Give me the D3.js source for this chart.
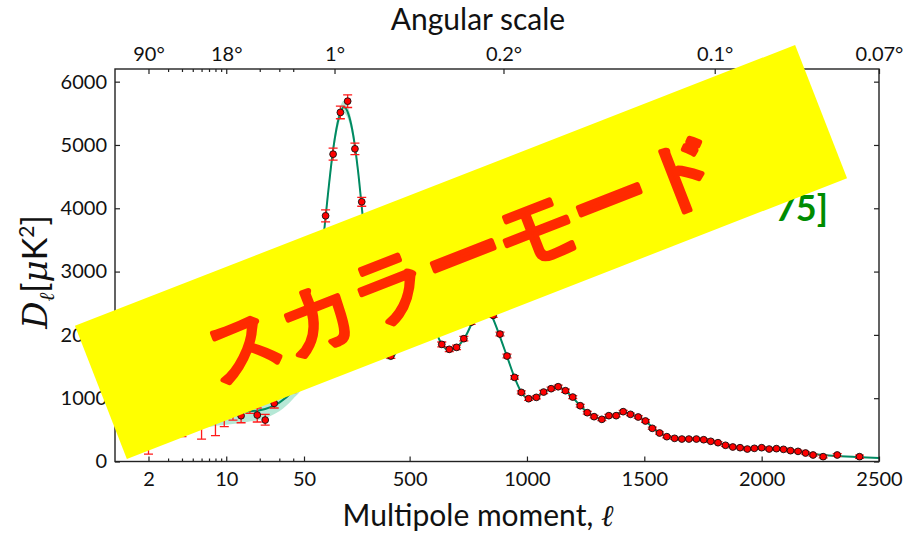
<!DOCTYPE html>
<html><head><meta charset="utf-8">
<script src="https://cdn.jsdelivr.net/npm/d3@7"></script>
<style>
body{margin:0;background:#fff}
svg{display:block}
text{font-family:Lato,"DejaVu Sans",sans-serif;fill:#111}
</style>
</head><body>
<svg id="c" width="916" height="537"></svg>
<script>
// ---------------- data ----------------
// best-fit model curve (multipole, D_l in uK^2) and its cosmic-variance half width
const curveL = [2,3,4,5,6,7,8,10,12,15,20,25,30,40,50,75,100,125,150,175,200,220,240,260,280,300,325,350,375,400,420,450,480,510,540,570,600,630,670,700,740,780,815,850,880,915,950,980,1010,1040,1080,1120,1150,1190,1230,1270,1310,1350,1400,1430,1470,1510,1550,1600,1650,1700,1750,1800,1850,1900,1950,2000,2050,2100,2150,2200,2250,2300,2400,2500];
const curveD = [1000,930,880,850,830,815,805,790,785,790,810,860,930,1120,1350,1800,2450,3250,4150,4950,5450,5600,5480,5150,4600,3880,3000,2300,1850,1660,1640,1780,2100,2380,2520,2430,2170,1900,1760,1800,1990,2290,2420,2300,2020,1660,1300,1070,995,1020,1110,1175,1150,1030,870,740,680,705,770,765,705,620,490,395,358,355,345,308,255,222,205,205,195,183,162,130,105,92,72,55];
const bandHalf = [650,500,400,340,300,270,240,210,190,170,150,140,135,130,110,90,90,92,95,98,100,100,95,90,80,70,60,52,45,40,40,40,40,40,40,38,36,34,30,30,28,28,26,25,24,22,20,20,18,18,17,16,15,14,13,12,11,11,10,10,10,9,9,8,8,7,7,7,6,6,6,6,5,5,5,5,4,4,4,4];

// low-multipole points (log part of the axis): value, lower and upper error
const lowL  = [2,3,4,5,6,7,8,9.6,11.5,13.6,16.3,19,22.4,27,32.5,39,46.5];
const lowD  = [250,1000,700,1600,800,1100,700,720,800,723,880,734,655,919,1100,1150,1300];
const lowLo = [132,600,308,900,445,500,292,170,145,111,120,110,79,74,60,60,60];
const lowHi = [1900,900,800,900,600,600,500,300,250,111,180,111,90,80,70,70,65];

// binned high-multipole points
const highL = [80,111,142,174,205,236,267,296,327,358,389,420,451,482,513,544,575,606,637,669,700,731,762,793,824,856,885,915,947,976,1007,1040,1071,1103,1133,1164,1195,1227,1257,1286,1319,1349,1380,1410,1441,1474,1505,1534,1565,1596,1629,1660,1690,1722,1753,1783,1814,1846,1877,1908,1939,1969,2000,2032,2063,2093,2123,2155,2187,2219,2262,2322,2417];
const highD = [1950,2750,3881,4855,5514,5692,4939,4102,3100,2400,1900,1666,1800,2100,2400,2520,2450,2150,1850,1772,1803,1940,2200,2400,2450,2308,2013,1666,1329,1092,992,1013,1097,1150,1181,1118,1018,881,771,708,666,724,724,787,745,703,640,524,450,392,366,355,355,355,344,319,297,256,229,218,197,208,218,197,203,192,171,160,134,103,76,103,76];
const highErr = [90,95,95,95,100,100,90,70,55,45,40,38,40,42,45,45,42,40,38,35,35,35,35,35,35,32,30,30,28,25,25,25,25,25,25,25,24,22,22,20,20,20,20,20,20,20,20,18,18,17,16,16,16,16,16,16,16,16,15,15,15,15,15,16,16,17,18,18,18,18,20,22,25];

// axes
const bottomTicks = [2,10,50,500,1000,1500,2000,2500];
const minorTicks = [3,4,5,6,7,8,9,20,30,40];
const topTicks = [2,10,180,900,1800,2500];
const topLabels = ["90°","18°","1°","0.2°","0.1°","0.07°"];
const yTicks = [0,1000,2000,3000,4000,5000,6000];

const titleTop = "Angular scale";
const titleBottom = "Multipole moment, ";
const noteText = "75]";
const bannerText = "スカラーモード";

// ---------------- layout ----------------
const L = 115, R = 879, T = 69, B = 461.5, BRK = 304;
const svg = d3.select("#c");

const xLog = d3.scaleLog().domain([1, 50]).range([L, BRK]);
const xLin = d3.scaleLinear().domain([50, 2500]).range([BRK, R]);
function hybrid() {
  const s = l => (l <= 50 ? xLog(l) : xLin(l));
  s.domain = () => [1, 2500];
  s.range = () => [L, R];
  s.copy = () => hybrid();
  return s;
}
const x = hybrid();
const y = d3.scaleLinear().domain([0, 6200]).range([B, T]);

svg.append("defs").append("clipPath").attr("id", "clip")
  .append("rect").attr("x", L).attr("y", T).attr("width", R - L).attr("height", B - T);

const plot = svg.append("g").attr("clip-path", "url(#clip)");

// band
const idx = d3.range(curveL.length);
plot.append("path")
  .attr("d", d3.area().curve(d3.curveMonotoneX)
    .x(i => x(curveL[i])).y0(i => y(curveD[i] - bandHalf[i])).y1(i => y(curveD[i] + bandHalf[i]))(idx))
  .attr("fill", "#a9e4cf").attr("opacity", 0.85);
// curve
plot.append("path")
  .attr("d", d3.line().curve(d3.curveMonotoneX).x(i => x(curveL[i])).y(i => y(curveD[i]))(idx))
  .attr("fill", "none").attr("stroke", "#008a62").attr("stroke-width", 2);

// error bars
const eb = plot.append("g").attr("stroke", "#ff1a1a").attr("stroke-width", 1.3);
function errBar(l, d, lo, hi) {
  const cx = x(l);
  eb.append("line").attr("x1", cx).attr("x2", cx).attr("y1", y(d - lo)).attr("y2", y(d + hi));
  [d - lo, d + hi].forEach(v => eb.append("line").attr("x1", cx - 4.5).attr("x2", cx + 4.5).attr("y1", y(v)).attr("y2", y(v)));
}
lowL.forEach((l, i) => errBar(l, lowD[i], lowLo[i], lowHi[i]));
highL.forEach((l, i) => errBar(l, highD[i], highErr[i], highErr[i]));

// points
const pts = plot.append("g").attr("fill", "#ff0000").attr("stroke", "#111").attr("stroke-width", 0.9);
lowL.forEach((l, i) => pts.append("circle").attr("cx", x(l)).attr("cy", y(lowD[i])).attr("r", 3.4));
highL.forEach((l, i) => pts.append("circle").attr("cx", x(l)).attr("cy", y(highD[i])).attr("r", 3.4));

// frame
svg.append("rect").attr("x", L).attr("y", T).attr("width", R - L).attr("height", B - T)
  .attr("fill", "none").attr("stroke", "#222").attr("stroke-width", 1.4);

function styleAxis(g, fs) {
  g.select(".domain").remove();
  g.selectAll(".tick line").attr("stroke", "#222").attr("stroke-width", 1.2);
  g.selectAll(".tick text").attr("font-size", fs).attr("fill", "#111")
    .attr("font-family", "Lato, 'DejaVu Sans', sans-serif");
}
// bottom
styleAxis(svg.append("g").attr("transform", `translate(0,${B})`)
  .call(d3.axisBottom(x).tickValues(bottomTicks).tickFormat(d3.format("d")).tickSize(-5).tickPadding(10)), 20);
styleAxis(svg.append("g").attr("transform", `translate(0,${B})`)
  .call(d3.axisBottom(x).tickValues(minorTicks).tickFormat("").tickSize(-3)), 20);
// top
styleAxis(svg.append("g").attr("transform", `translate(0,${T})`)
  .call(d3.axisTop(x).tickValues(topTicks).tickFormat((d, i) => topLabels[i]).tickSize(-5).tickPadding(8)), 20);
styleAxis(svg.append("g").attr("transform", `translate(0,${T})`)
  .call(d3.axisTop(x).tickValues(minorTicks).tickFormat("").tickSize(-3)), 20);
// left / right
styleAxis(svg.append("g").attr("transform", `translate(${L},0)`)
  .call(d3.axisLeft(y).tickValues(yTicks).tickFormat(d3.format("d")).tickSize(-5).tickPadding(8)), 20);
styleAxis(svg.append("g").attr("transform", `translate(${R},0)`)
  .call(d3.axisRight(y).tickValues(yTicks).tickFormat("").tickSize(-5)), 20);

// titles
svg.append("text").attr("x", 478).attr("y", 30).attr("text-anchor", "middle")
  .attr("font-size", 30).text(titleTop);
const bt = svg.append("text").attr("x", 478).attr("y", 526).attr("text-anchor", "middle").attr("font-size", 30);
bt.append("tspan").text(titleBottom);
bt.append("tspan").attr("font-family", "'DejaVu Serif', serif").attr("font-style", "italic").text("ℓ");

const yl = svg.append("text").attr("transform", "translate(47,272) rotate(-90)")
  .attr("text-anchor", "middle").attr("font-size", 34);
yl.append("tspan").attr("font-family", "'DejaVu Serif', serif").attr("font-style", "italic").text("D");
yl.append("tspan").attr("font-family", "'DejaVu Serif', serif").attr("font-style", "italic")
  .attr("font-size", 21).attr("dy", 7).text("ℓ");
yl.append("tspan").attr("dy", -7).text("[");
yl.append("tspan").attr("font-family", "'DejaVu Serif', serif").attr("font-style", "italic").text("μ");
yl.append("tspan").text("K");
yl.append("tspan").attr("font-size", 21).attr("dy", -13).text("2");
yl.append("tspan").attr("dy", 13).text("]");

// green note (partly hidden under the banner)
svg.append("text").attr("x", 828).attr("y", 221).attr("text-anchor", "end")
  .attr("font-size", 36).attr("font-weight", 700).attr("font-family", "'DejaVu Sans', sans-serif")
  .style("fill", "#008c00").text(noteText);

// banner
const bn = svg.append("g").attr("transform", "translate(461,252) rotate(-21.3)");
bn.append("rect").attr("x", -386.5).attr("y", -71.5).attr("width", 773).attr("height", 143).attr("fill", "#ffff00");
bn.append("text").attr("x", 0).attr("y", 4).attr("text-anchor", "middle").attr("dominant-baseline", "central")
  .attr("font-size", 77).attr("font-weight", 700).attr("font-family", "'Noto Sans CJK JP', sans-serif")
  .attr("stroke", "#ff2a00").attr("stroke-width", 2.5).attr("stroke-linejoin", "round")
  .style("fill", "#ff2a00").text(bannerText);
</script>
</body></html>
